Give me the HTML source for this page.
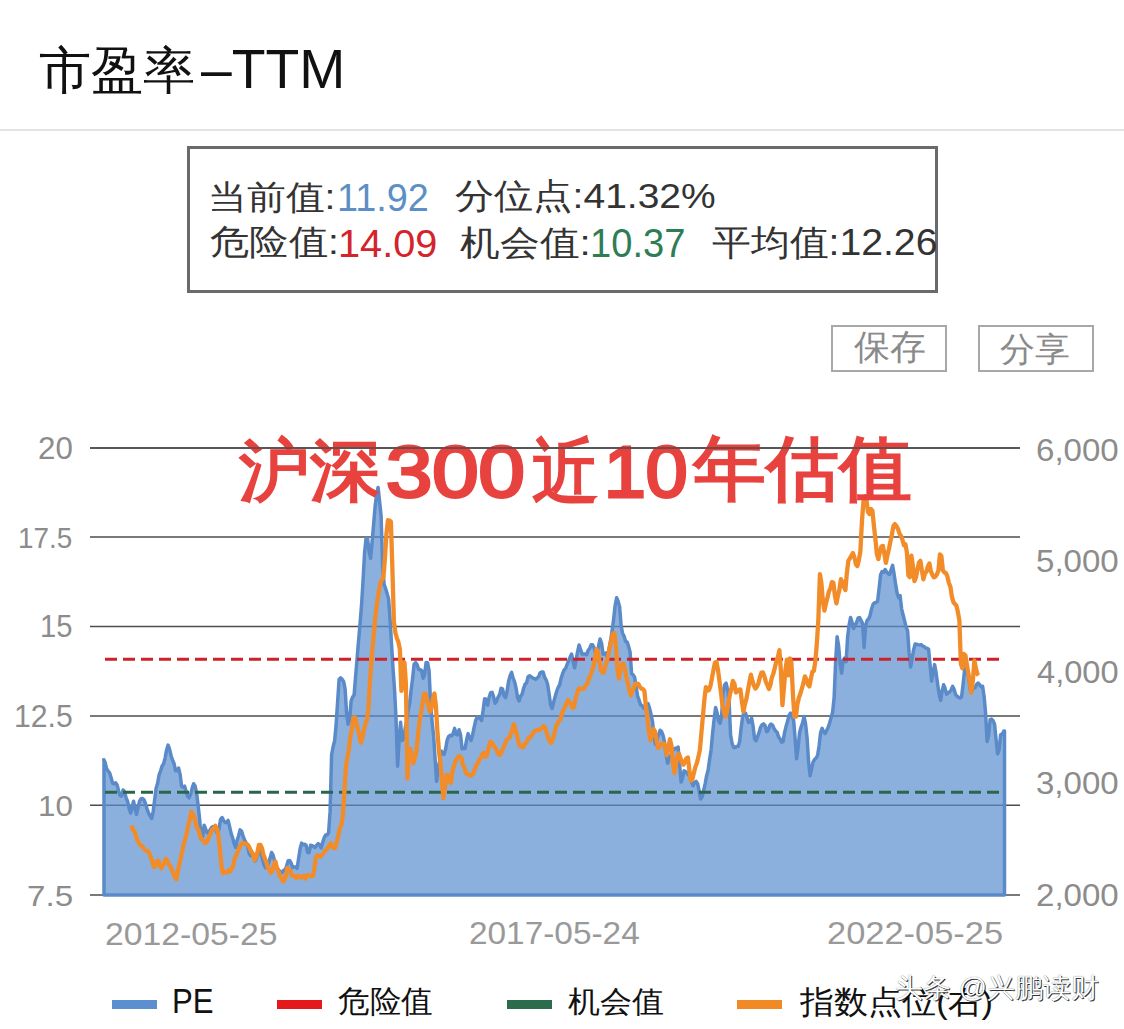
<!DOCTYPE html>
<html><head><meta charset="utf-8">
<style>
html,body{margin:0;padding:0;background:#fff;width:1124px;height:1029px;overflow:hidden;font-family:"Liberation Sans",sans-serif;}
.abs{position:absolute;}
.t{position:absolute;white-space:nowrap;line-height:1;transform-origin:0 0;}
.sw{position:absolute;height:9px;}
</style></head><body>
<div class="abs" style="left:0;top:129px;width:1124px;height:1.5px;background:#e4e4e4"></div>
<div class="abs" style="left:187px;top:145.5px;width:745px;height:141px;border:3px solid #6a6a6a"></div>
<div class="abs" style="left:831px;top:325px;width:112px;height:43px;border:2px solid #a8a8a8"></div>
<div class="abs" style="left:978px;top:325px;width:112px;height:43px;border:2px solid #a8a8a8"></div>
<svg class="abs" style="left:0;top:0" width="1124" height="1029">
<g stroke="#4d4d4d" stroke-width="1.6"><line x1="90" y1="448" x2="1020" y2="448"/><line x1="90" y1="537" x2="1020" y2="537"/><line x1="90" y1="626.5" x2="1020" y2="626.5"/><line x1="90" y1="716" x2="1020" y2="716"/><line x1="90" y1="805.3" x2="1020" y2="805.3"/><line x1="90" y1="895" x2="1020" y2="895"/></g>
<path d="M104.0,759.7 L103.6,759.7 L105.1,762.4 L106.6,768.6 L108.1,771.0 L109.6,772.8 L111.1,777.7 L112.6,783.3 L114.1,783.7 L115.6,782.8 L117.1,784.9 L118.6,790.7 L120.1,795.5 L121.6,796.1 L123.1,790.0 L124.6,791.7 L126.1,797.8 L127.6,801.4 L129.1,808.4 L130.6,813.0 L132.1,806.5 L133.6,801.3 L135.1,809.2 L136.6,814.5 L138.1,807.1 L139.6,800.9 L141.1,798.7 L142.6,798.4 L144.1,799.9 L145.6,804.1 L147.1,809.1 L148.6,813.1 L150.1,815.9 L151.6,818.5 L153.1,811.8 L154.6,800.2 L156.1,788.3 L157.6,783.2 L159.1,774.8 L160.6,770.8 L162.1,766.0 L163.6,763.8 L165.1,757.8 L166.6,750.0 L168.1,745.1 L169.6,749.4 L171.1,755.7 L172.6,760.3 L174.1,763.6 L175.6,770.8 L177.1,770.7 L178.6,768.1 L180.1,774.4 L181.6,786.3 L183.1,787.2 L184.6,786.2 L186.1,791.2 L187.6,796.3 L189.1,797.8 L190.6,794.4 L192.1,788.3 L193.6,783.7 L195.1,785.9 L196.6,793.3 L198.1,805.2 L199.6,819.0 L201.1,839.2 L202.6,836.7 L204.1,825.2 L205.6,828.9 L207.1,833.0 L208.6,832.8 L210.1,829.9 L211.6,827.5 L213.1,826.5 L214.6,827.4 L216.1,830.4 L217.6,834.0 L219.1,828.2 L220.6,819.4 L222.1,817.5 L223.6,820.6 L225.1,822.4 L226.6,822.6 L228.1,820.4 L229.6,826.7 L231.1,833.4 L232.6,837.8 L234.1,843.5 L235.6,847.4 L237.1,840.2 L238.6,835.7 L240.1,829.9 L241.6,831.2 L243.1,836.1 L244.6,840.1 L246.1,842.6 L247.6,846.0 L249.1,853.5 L250.6,855.7 L252.1,856.0 L253.6,856.7 L255.1,861.0 L256.6,858.1 L258.1,852.8 L259.6,849.5 L261.1,854.1 L262.6,859.8 L264.1,865.2 L265.6,867.8 L267.1,867.1 L268.6,862.8 L270.1,858.1 L271.6,852.5 L273.1,855.1 L274.6,861.0 L276.1,866.4 L277.6,869.0 L279.1,870.5 L280.6,872.2 L282.1,872.6 L283.6,870.2 L285.1,870.2 L286.6,866.1 L288.1,860.7 L289.6,860.5 L291.1,862.9 L292.6,867.5 L294.1,866.9 L295.6,867.1 L297.1,868.3 L298.6,858.5 L300.1,848.7 L301.6,843.1 L303.1,844.7 L304.6,844.2 L306.1,845.2 L307.6,852.5 L309.1,852.7 L310.6,845.3 L312.1,845.6 L313.6,846.5 L315.1,847.4 L316.6,845.3 L318.1,843.5 L319.6,844.8 L321.1,848.0 L322.6,842.8 L324.1,837.9 L325.6,835.1 L327.1,835.0 L328.6,832.6 L330.1,811.4 L331.6,755.0 L333.1,746.8 L334.6,741.0 L336.1,725.0 L337.6,701.8 L339.1,679.5 L340.6,677.8 L342.1,679.3 L343.6,681.4 L345.1,689.2 L346.6,713.0 L348.1,724.3 L349.6,719.6 L351.1,701.1 L352.6,697.1 L354.1,695.0 L355.6,676.3 L357.1,658.4 L358.6,640.4 L360.1,623.0 L361.6,604.5 L363.1,579.7 L364.6,552.2 L366.1,538.2 L367.6,538.6 L369.1,551.7 L370.6,558.4 L372.1,541.8 L373.6,524.6 L375.1,506.4 L376.6,494.8 L378.1,487.4 L379.6,501.6 L381.1,515.8 L382.6,566.5 L384.1,584.4 L385.6,588.6 L387.1,593.4 L388.6,599.1 L390.1,620.0 L391.6,645.3 L393.1,669.6 L394.6,690.7 L396.1,720.9 L397.6,766.2 L399.1,740.6 L400.6,722.3 L402.1,740.4 L403.6,739.0 L405.1,728.9 L406.6,721.3 L408.1,711.0 L409.6,703.8 L411.1,690.4 L412.6,678.6 L414.1,664.2 L415.6,662.6 L417.1,664.5 L418.6,669.6 L420.1,669.5 L421.6,670.4 L423.1,678.2 L424.6,674.7 L426.1,662.5 L427.6,662.8 L429.1,670.9 L430.6,704.6 L432.1,721.8 L433.6,735.9 L435.1,759.1 L436.6,781.3 L438.1,769.3 L439.6,761.1 L441.1,750.9 L442.6,753.7 L444.1,754.3 L445.6,749.0 L447.1,740.3 L448.6,736.5 L450.1,735.2 L451.6,735.9 L453.1,733.7 L454.6,728.4 L456.1,734.3 L457.6,734.9 L459.1,729.7 L460.6,735.3 L462.1,748.7 L463.6,748.4 L465.1,748.5 L466.6,739.9 L468.1,733.6 L469.6,737.8 L471.1,740.4 L472.6,734.9 L474.1,727.3 L475.6,720.8 L477.1,717.3 L478.6,718.0 L480.1,718.2 L481.6,720.5 L483.1,710.5 L484.6,698.7 L486.1,699.1 L487.6,705.2 L489.1,697.2 L490.6,692.8 L492.1,692.4 L493.6,696.8 L495.1,703.3 L496.6,701.2 L498.1,697.1 L499.6,694.6 L501.1,688.2 L502.6,689.1 L504.1,696.0 L505.6,697.6 L507.1,691.2 L508.6,681.3 L510.1,675.8 L511.6,672.4 L513.1,678.1 L514.6,681.8 L516.1,688.3 L517.6,697.9 L519.1,700.9 L520.6,696.1 L522.1,694.2 L523.6,688.3 L525.1,684.1 L526.6,682.9 L528.1,676.7 L529.6,675.8 L531.1,676.8 L532.6,677.9 L534.1,678.4 L535.6,679.4 L537.1,678.1 L538.6,676.8 L540.1,672.9 L541.6,671.9 L543.1,672.1 L544.6,677.2 L546.1,679.8 L547.6,684.3 L549.1,694.1 L550.6,704.8 L552.1,708.5 L553.6,702.4 L555.1,696.8 L556.6,691.5 L558.1,687.5 L559.6,685.0 L561.1,678.3 L562.6,673.7 L564.1,670.0 L565.6,668.5 L567.1,664.4 L568.6,660.8 L570.1,657.3 L571.6,654.1 L573.1,661.7 L574.6,667.8 L576.1,659.9 L577.6,651.6 L579.1,645.0 L580.6,649.6 L582.1,654.1 L583.6,654.1 L585.1,654.0 L586.6,654.7 L588.1,650.6 L589.6,648.5 L591.1,644.8 L592.6,644.8 L594.1,647.7 L595.6,653.7 L597.1,654.4 L598.6,645.7 L600.1,639.0 L601.6,643.6 L603.1,654.2 L604.6,654.1 L606.1,652.8 L607.6,658.4 L609.1,648.5 L610.6,640.3 L612.1,630.9 L613.6,619.4 L615.1,605.9 L616.6,597.7 L618.1,601.2 L619.6,606.6 L621.1,625.7 L622.6,633.5 L624.1,636.2 L625.6,641.5 L627.1,641.9 L628.6,646.5 L630.1,652.1 L631.6,673.7 L633.1,674.8 L634.6,677.1 L636.1,686.5 L637.6,696.1 L639.1,700.2 L640.6,704.9 L642.1,705.5 L643.6,708.2 L645.1,707.2 L646.6,705.1 L648.1,703.7 L649.6,708.3 L651.1,714.6 L652.6,722.1 L654.1,738.0 L655.6,744.6 L657.1,739.1 L658.6,734.7 L660.1,730.2 L661.6,731.6 L663.1,735.7 L664.6,742.4 L666.1,753.9 L667.6,763.2 L669.1,758.2 L670.6,755.6 L672.1,751.4 L673.6,749.6 L675.1,748.3 L676.6,748.3 L678.1,747.0 L679.6,764.3 L681.1,782.1 L682.6,777.6 L684.1,770.9 L685.6,771.6 L687.1,773.0 L688.6,775.0 L690.1,777.0 L691.6,782.2 L693.1,785.8 L694.6,782.5 L696.1,781.4 L697.6,783.7 L699.1,790.7 L700.6,799.1 L702.1,797.0 L703.6,790.6 L705.1,783.8 L706.6,775.9 L708.1,770.2 L709.6,759.4 L711.1,749.9 L712.6,733.2 L714.1,719.6 L715.6,707.5 L717.1,713.0 L718.6,720.9 L720.1,723.2 L721.6,716.0 L723.1,693.5 L724.6,685.1 L726.1,683.1 L727.6,689.8 L729.1,702.4 L730.6,735.1 L732.1,743.5 L733.6,747.4 L735.1,747.6 L736.6,746.4 L738.1,746.6 L739.6,741.7 L741.1,728.5 L742.6,716.6 L744.1,712.9 L745.6,713.3 L747.1,718.2 L748.6,722.4 L750.1,722.1 L751.6,718.1 L753.1,726.3 L754.6,739.2 L756.1,740.7 L757.6,736.6 L759.1,732.4 L760.6,727.1 L762.1,724.8 L763.6,723.9 L765.1,725.6 L766.6,731.7 L768.1,730.8 L769.6,725.7 L771.1,724.0 L772.6,725.3 L774.1,728.7 L775.6,731.0 L777.1,732.4 L778.6,736.9 L780.1,739.1 L781.6,742.3 L783.1,741.4 L784.6,732.4 L786.1,726.3 L787.6,721.3 L789.1,715.2 L790.6,713.1 L792.1,716.4 L793.6,720.1 L795.1,738.6 L796.6,758.7 L798.1,747.5 L799.6,732.5 L801.1,727.0 L802.6,722.8 L804.1,716.5 L805.6,724.2 L807.1,738.1 L808.6,762.0 L810.1,775.7 L811.6,768.5 L813.1,762.1 L814.6,759.3 L816.1,758.2 L817.6,755.2 L819.1,745.8 L820.6,732.6 L822.1,728.3 L823.6,731.8 L825.1,733.5 L826.6,730.6 L828.1,727.5 L829.6,723.0 L831.1,717.6 L832.6,712.2 L834.1,698.0 L835.6,662.3 L837.1,636.8 L838.6,645.7 L840.1,663.7 L841.6,673.2 L843.1,660.5 L844.6,658.2 L846.1,661.7 L847.6,637.3 L849.1,625.0 L850.6,617.4 L852.1,622.6 L853.6,628.5 L855.1,625.0 L856.6,622.5 L858.1,618.0 L859.6,617.6 L861.1,620.6 L862.6,623.6 L864.1,647.5 L865.6,626.1 L867.1,620.4 L868.6,619.0 L870.1,615.5 L871.6,608.7 L873.1,604.3 L874.6,602.7 L876.1,602.5 L877.6,601.1 L879.1,588.4 L880.6,574.8 L882.1,571.6 L883.6,572.1 L885.1,569.5 L886.6,572.0 L888.1,573.7 L889.6,574.5 L891.1,569.9 L892.6,565.4 L894.1,574.0 L895.6,584.4 L897.1,593.1 L898.6,597.7 L900.1,595.7 L901.6,608.8 L903.1,615.0 L904.6,620.9 L906.1,627.1 L907.6,630.8 L909.1,652.9 L910.6,667.1 L912.1,658.6 L913.6,649.9 L915.1,644.1 L916.6,644.2 L918.1,644.6 L919.6,644.9 L921.1,644.6 L922.6,645.9 L924.1,646.5 L925.6,648.1 L927.1,648.3 L928.6,649.2 L930.1,665.4 L931.6,681.0 L933.1,672.9 L934.6,664.6 L936.1,673.1 L937.6,683.9 L939.1,693.8 L940.6,700.4 L942.1,691.0 L943.6,684.8 L945.1,688.3 L946.6,694.3 L948.1,693.0 L949.6,691.8 L951.1,690.0 L952.6,686.4 L954.1,689.4 L955.6,694.5 L957.1,696.3 L958.6,697.3 L960.1,698.1 L961.6,696.8 L963.1,684.1 L964.6,669.9 L966.1,667.0 L967.6,671.8 L969.1,680.6 L970.6,691.6 L972.1,690.5 L973.6,687.7 L975.1,687.7 L976.6,684.5 L978.1,683.0 L979.6,684.7 L981.1,686.7 L982.6,686.2 L984.1,696.4 L985.6,713.5 L987.1,741.5 L988.6,735.5 L990.1,719.7 L991.6,719.1 L993.1,720.7 L994.6,724.3 L996.1,739.9 L997.6,753.9 L999.1,750.1 L1000.6,734.8 L1002.1,734.1 L1003.6,731.6 L1003.8,730.9 L1004.5,730.9 L1004.5,895 L104.0,895 Z" fill="#5b8fd0" fill-opacity="0.7" stroke="#5a8bc8" stroke-width="3.5" stroke-linejoin="round"/>
<line x1="104" y1="659.3" x2="1005" y2="659.3" stroke="#cc2229" stroke-width="3" stroke-dasharray="12 6" stroke-dashoffset="-1"/>
<line x1="104" y1="792.3" x2="1005" y2="792.3" stroke="#2a654c" stroke-width="3" stroke-dasharray="12 6" stroke-dashoffset="-1"/>
<path d="M131.4,825.5 L132.9,829.7 L134.4,831.2 L135.9,835.2 L137.4,840.5 L138.9,843.2 L140.4,845.2 L141.9,845.7 L143.4,848.1 L144.9,849.6 L146.4,851.0 L147.9,851.2 L149.4,853.5 L150.9,857.1 L152.4,862.1 L153.9,866.9 L155.4,866.3 L156.9,861.3 L158.4,860.7 L159.9,865.4 L161.4,868.4 L162.9,864.9 L164.4,862.7 L165.9,858.8 L167.4,860.7 L168.9,864.7 L170.4,866.1 L171.9,869.9 L173.4,873.4 L174.9,877.2 L176.4,879.4 L177.9,870.8 L179.4,863.9 L180.9,857.4 L182.4,850.3 L183.9,842.9 L185.4,839.0 L186.9,832.1 L188.4,825.1 L189.9,818.8 L191.4,811.5 L192.9,814.0 L194.4,817.5 L195.9,824.2 L197.4,828.6 L198.9,830.7 L200.4,837.0 L201.9,839.5 L203.4,840.8 L204.9,843.0 L206.4,842.4 L207.9,840.2 L209.4,835.5 L210.9,833.1 L212.4,829.2 L213.9,828.2 L215.4,825.8 L216.9,829.0 L218.4,835.3 L219.9,849.0 L221.4,864.9 L222.9,873.5 L224.4,872.2 L225.9,872.0 L227.4,872.6 L228.9,870.0 L230.4,871.2 L231.9,868.3 L233.4,865.1 L234.9,857.3 L236.4,855.1 L237.9,851.3 L239.4,847.7 L240.9,844.8 L242.4,843.0 L243.9,843.6 L245.4,843.6 L246.9,844.0 L248.4,845.5 L249.9,848.6 L251.4,851.6 L252.9,854.0 L254.4,860.2 L255.9,857.4 L257.4,852.5 L258.9,844.8 L260.4,845.0 L261.9,847.9 L263.4,854.7 L264.9,858.5 L266.4,862.2 L267.9,868.0 L269.4,869.5 L270.9,873.0 L272.4,870.5 L273.9,865.2 L275.4,861.6 L276.9,867.7 L278.4,871.1 L279.9,876.5 L281.4,877.5 L282.9,881.4 L284.4,880.2 L285.9,875.7 L287.4,868.0 L288.9,870.4 L290.4,870.7 L291.9,875.8 L293.4,875.6 L294.9,876.3 L296.4,878.0 L297.9,876.0 L299.4,876.1 L300.9,877.6 L302.4,876.7 L303.9,875.7 L305.4,878.5 L306.9,875.8 L308.4,875.1 L309.9,875.7 L311.4,876.2 L312.9,876.2 L314.4,867.8 L315.9,857.5 L317.4,855.3 L318.9,856.1 L320.4,856.5 L321.9,855.0 L323.4,853.5 L324.9,851.1 L326.4,849.6 L327.9,847.6 L329.4,845.4 L330.9,843.2 L332.4,846.9 L333.9,848.3 L335.4,847.5 L336.9,841.3 L338.4,835.4 L339.9,827.7 L341.4,825.4 L342.9,814.8 L344.4,791.5 L345.9,767.4 L347.4,756.9 L348.9,749.6 L350.4,736.3 L351.9,729.5 L353.4,717.6 L354.9,717.3 L356.4,722.8 L357.9,729.2 L359.4,735.7 L360.9,742.7 L362.4,737.8 L363.9,730.4 L365.4,723.4 L366.9,720.3 L368.4,708.5 L369.9,683.2 L371.4,660.9 L372.9,643.7 L374.4,627.0 L375.9,611.9 L377.4,600.1 L378.9,591.7 L380.4,582.9 L381.9,579.9 L383.4,577.4 L384.9,558.8 L386.4,534.2 L387.9,520.2 L389.4,520.5 L390.9,521.7 L392.4,569.6 L393.9,621.6 L395.4,632.8 L396.9,638.2 L398.4,642.1 L399.9,649.4 L401.4,690.8 L402.9,681.4 L404.4,662.3 L405.9,683.3 L407.4,778.6 L408.9,755.6 L410.4,748.9 L411.9,757.6 L413.4,763.2 L414.9,757.5 L416.4,751.7 L417.9,735.5 L419.4,722.4 L420.9,713.7 L422.4,703.7 L423.9,694.3 L425.4,693.6 L426.9,699.1 L428.4,705.2 L429.9,711.9 L431.4,708.7 L432.9,698.5 L434.4,693.5 L435.9,705.6 L437.4,731.4 L438.9,750.0 L440.4,763.3 L441.9,779.9 L443.4,798.3 L444.9,788.3 L446.4,774.8 L447.9,774.9 L449.4,780.7 L450.9,783.1 L452.4,771.3 L453.9,766.0 L455.4,761.4 L456.9,759.0 L458.4,756.3 L459.9,756.2 L461.4,758.1 L462.9,764.7 L464.4,767.5 L465.9,773.1 L467.4,774.0 L468.9,774.5 L470.4,775.8 L471.9,775.1 L473.4,773.1 L474.9,769.1 L476.4,765.0 L477.9,763.3 L479.4,759.7 L480.9,757.7 L482.4,753.9 L483.9,752.8 L485.4,756.9 L486.9,755.1 L488.4,748.9 L489.9,742.2 L491.4,741.9 L492.9,744.0 L494.4,746.9 L495.9,748.3 L497.4,752.1 L498.9,754.9 L500.4,754.7 L501.9,750.9 L503.4,747.9 L504.9,744.3 L506.4,740.0 L507.9,738.6 L509.4,738.1 L510.9,733.9 L512.4,729.0 L513.9,724.3 L515.4,729.3 L516.9,734.7 L518.4,741.8 L519.9,746.1 L521.4,746.3 L522.9,747.4 L524.4,744.0 L525.9,743.7 L527.4,740.1 L528.9,737.5 L530.4,737.3 L531.9,734.9 L533.4,732.8 L534.9,730.7 L536.4,730.7 L537.9,729.8 L539.4,730.0 L540.9,728.9 L542.4,727.0 L543.9,726.2 L545.4,728.5 L546.9,733.5 L548.4,738.4 L549.9,741.5 L551.4,742.9 L552.9,738.5 L554.4,733.6 L555.9,726.6 L557.4,723.7 L558.9,721.2 L560.4,719.7 L561.9,713.5 L563.4,710.2 L564.9,707.1 L566.4,703.9 L567.9,700.2 L569.4,702.3 L570.9,703.6 L572.4,707.8 L573.9,707.3 L575.4,699.2 L576.9,694.2 L578.4,688.9 L579.9,688.3 L581.4,688.9 L582.9,689.2 L584.4,688.1 L585.9,685.1 L587.4,683.6 L588.9,678.7 L590.4,675.7 L591.9,671.3 L593.4,666.5 L594.9,659.0 L596.4,649.3 L597.9,651.5 L599.4,661.3 L600.9,670.1 L602.4,672.6 L603.9,672.5 L605.4,665.4 L606.9,661.5 L608.4,654.4 L609.9,646.7 L611.4,639.2 L612.9,633.7 L614.4,633.0 L615.9,646.3 L617.4,669.1 L618.9,678.6 L620.4,669.0 L621.9,664.5 L623.4,663.7 L624.9,669.4 L626.4,677.5 L627.9,683.7 L629.4,690.6 L630.9,695.4 L632.4,690.7 L633.9,688.0 L635.4,683.6 L636.9,683.5 L638.4,684.0 L639.9,686.9 L641.4,688.7 L642.9,689.0 L644.4,691.0 L645.9,706.8 L647.4,717.6 L648.9,731.4 L650.4,740.5 L651.9,735.5 L653.4,729.0 L654.9,731.4 L656.4,739.0 L657.9,748.0 L659.4,746.9 L660.9,744.7 L662.4,743.4 L663.9,743.4 L665.4,748.4 L666.9,755.2 L668.4,747.3 L669.9,739.3 L671.4,745.3 L672.9,763.0 L674.4,773.1 L675.9,765.0 L677.4,756.8 L678.9,753.6 L680.4,757.7 L681.9,762.4 L683.4,764.7 L684.9,761.7 L686.4,758.4 L687.9,757.5 L689.4,770.5 L690.9,780.7 L692.4,779.1 L693.9,772.7 L695.4,766.9 L696.9,762.9 L698.4,756.7 L699.9,749.9 L701.4,732.9 L702.9,716.4 L704.4,699.6 L705.9,687.1 L707.4,690.6 L708.9,690.2 L710.4,686.1 L711.9,678.3 L713.4,670.4 L714.9,662.8 L716.4,661.8 L717.9,669.3 L719.4,680.8 L720.9,692.0 L722.4,704.5 L723.9,711.6 L725.4,716.7 L726.9,712.5 L728.4,703.2 L729.9,694.5 L731.4,688.3 L732.9,680.9 L734.4,683.7 L735.9,692.5 L737.4,691.5 L738.9,689.9 L740.4,689.4 L741.9,701.4 L743.4,711.6 L744.9,704.2 L746.4,698.8 L747.9,690.5 L749.4,682.3 L750.9,674.7 L752.4,681.0 L753.9,685.6 L755.4,688.6 L756.9,686.6 L758.4,683.3 L759.9,677.4 L761.4,672.6 L762.9,672.4 L764.4,676.3 L765.9,681.9 L767.4,685.1 L768.9,689.0 L770.4,684.7 L771.9,677.4 L773.4,673.5 L774.9,667.4 L776.4,661.2 L777.9,657.0 L779.4,650.2 L780.9,671.0 L782.4,705.2 L783.9,688.4 L785.4,670.4 L786.9,659.7 L788.4,675.4 L789.9,658.5 L791.4,662.6 L792.9,693.8 L794.4,716.5 L795.9,716.7 L797.4,704.2 L798.9,697.7 L800.4,693.6 L801.9,688.5 L803.4,683.1 L804.9,676.4 L806.4,679.4 L807.9,684.4 L809.4,686.4 L810.9,678.7 L812.4,671.6 L813.9,670.9 L815.4,660.5 L816.9,642.6 L818.4,618.6 L819.9,574.2 L821.4,583.1 L822.9,601.9 L824.4,610.6 L825.9,603.6 L827.4,597.9 L828.9,591.6 L830.4,588.4 L831.9,582.1 L833.4,582.7 L834.9,595.7 L836.4,603.3 L837.9,595.8 L839.4,589.7 L840.9,579.2 L842.4,582.1 L843.9,587.1 L845.4,590.0 L846.9,572.5 L848.4,560.7 L849.9,558.4 L851.4,555.6 L852.9,553.0 L854.4,557.4 L855.9,564.1 L857.4,566.1 L858.9,560.1 L860.4,550.8 L861.9,522.1 L863.4,501.8 L864.9,496.1 L866.4,498.9 L867.9,511.9 L869.4,514.1 L870.9,509.0 L872.4,510.7 L873.9,525.8 L875.4,539.1 L876.9,554.2 L878.4,559.1 L879.9,551.8 L881.4,546.5 L882.9,545.9 L884.4,554.0 L885.9,562.9 L887.4,555.6 L888.9,549.0 L890.4,541.6 L891.9,534.5 L893.4,526.1 L894.9,524.1 L896.4,526.0 L897.9,528.8 L899.4,533.3 L900.9,535.8 L902.4,539.8 L903.9,545.3 L905.4,544.2 L906.9,552.3 L908.4,575.6 L909.9,577.2 L911.4,555.7 L912.9,566.1 L914.4,581.1 L915.9,577.6 L917.4,569.9 L918.9,562.6 L920.4,560.8 L921.9,570.4 L923.4,579.3 L924.9,573.3 L926.4,571.7 L927.9,566.4 L929.4,563.4 L930.9,571.4 L932.4,574.8 L933.9,577.3 L935.4,576.5 L936.9,574.3 L938.4,570.7 L939.9,554.4 L941.4,556.2 L942.9,570.4 L944.4,572.3 L945.9,573.2 L947.4,576.4 L948.9,583.0 L950.4,586.7 L951.9,596.8 L953.4,602.2 L954.9,604.0 L956.4,605.7 L957.9,612.1 L959.4,620.7 L960.9,664.1 L962.4,668.3 L963.9,654.0 L965.4,655.3 L966.9,664.8 L968.4,673.5 L969.9,682.2 L971.4,692.8 L972.9,679.9 L974.4,660.5 L975.9,668.6 L977.4,674.0 L978.5,675.4" fill="none" stroke="#f28c28" stroke-width="4.3" stroke-linejoin="round"/>
</svg>
<div class="t" style="left:238.9px;top:436.0px;font-size:68.35px;transform:scaleX(1.040);color:#e8423f;font-weight:bold">沪深</div>
<div class="t" style="left:385.7px;top:436.6px;font-size:71.35px;transform:scaleX(1.167);color:#e8423f;-webkit-text-stroke:3px #e8423f">300</div>
<div class="t" style="left:532.4px;top:435.4px;font-size:72.25px;transform:scaleX(0.929);color:#e8423f;font-weight:bold">近</div>
<div class="t" style="left:603.5px;top:436.6px;font-size:71.35px;transform:scaleX(1.053);color:#e8423f;-webkit-text-stroke:3px #e8423f">10</div>
<div class="t" style="left:693.1px;top:433.8px;font-size:70.55px;transform:scaleX(1.026);color:#e8423f;font-weight:bold">年估值</div>
<svg class="abs" style="left:0;top:0" width="1124" height="500"><line x1="90" y1="448" x2="1020" y2="448" stroke="#4d4d4d" stroke-width="1.6"/></svg>
<div class="t" style="left:38.6px;top:44.9px;font-size:51.36px;transform:scaleX(1.024);color:#111">市盈率</div>
<div class="t" style="left:201.1px;top:42.0px;font-size:55.67px;transform:scaleX(0.993);color:#111">–TTM</div>
<div class="t" style="left:207.7px;top:179.6px;font-size:34.26px;transform:scaleX(1.142);color:#333">当前值:</div>
<div class="t" style="left:337.3px;top:178.2px;font-size:38.99px;transform:scaleX(0.970);color:#5b8fc6">11.92</div>
<div class="t" style="left:455.0px;top:179.0px;font-size:34.84px;transform:scaleX(1.120);color:#333">分位点:41.32%</div>
<div class="t" style="left:210.0px;top:225.2px;font-size:34.59px;transform:scaleX(1.124);color:#333">危险值:</div>
<div class="t" style="left:338.2px;top:224.1px;font-size:39.68px;transform:scaleX(1.001);color:#d4232a">14.09</div>
<div class="t" style="left:460.0px;top:224.6px;font-size:35.24px;transform:scaleX(1.137);color:#333">机会值:</div>
<div class="t" style="left:589.8px;top:224.2px;font-size:40.20px;transform:scaleX(0.948);color:#2f7d57">10.37</div>
<div class="t" style="left:711.5px;top:224.5px;font-size:36.31px;transform:scaleX(1.079);color:#333">平均值:12.26</div>
<div class="t" style="left:853.6px;top:330.3px;font-size:34.94px;transform:scaleX(1.028);color:#8a8a8a">保存</div>
<div class="t" style="left:1000.0px;top:332.1px;font-size:34.33px;transform:scaleX(1.027);color:#8a8a8a">分享</div>
<div class="t" style="left:37.8px;top:433.4px;font-size:31.84px;transform:scaleX(0.983);color:#8c8c8c">20</div>
<div class="t" style="left:18.4px;top:523.4px;font-size:30.21px;transform:scaleX(0.922);color:#8c8c8c">17.5</div>
<div class="t" style="left:39.8px;top:611.4px;font-size:31.88px;transform:scaleX(0.916);color:#8c8c8c">15</div>
<div class="t" style="left:14.3px;top:701.7px;font-size:30.74px;transform:scaleX(0.981);color:#8c8c8c">12.5</div>
<div class="t" style="left:37.7px;top:791.4px;font-size:30.21px;transform:scaleX(1.036);color:#8c8c8c">10</div>
<div class="t" style="left:26.8px;top:880.9px;font-size:30.21px;transform:scaleX(1.097);color:#8c8c8c">7.5</div>
<div class="t" style="left:1035.5px;top:434.3px;font-size:32.16px;transform:scaleX(1.028);color:#8c8c8c">6,000</div>
<div class="t" style="left:1035.5px;top:545.4px;font-size:32.16px;transform:scaleX(1.028);color:#8c8c8c">5,000</div>
<div class="t" style="left:1036.5px;top:656.0px;font-size:32.16px;transform:scaleX(1.015);color:#8c8c8c">4,000</div>
<div class="t" style="left:1035.5px;top:766.9px;font-size:32.16px;transform:scaleX(1.027);color:#8c8c8c">3,000</div>
<div class="t" style="left:1035.5px;top:879.3px;font-size:32.16px;transform:scaleX(1.028);color:#8c8c8c">2,000</div>
<div class="t" style="left:105.4px;top:919.3px;font-size:31.29px;transform:scaleX(1.078);color:#999">2012-05-25</div>
<div class="t" style="left:468.7px;top:917.9px;font-size:31.88px;transform:scaleX(1.047);color:#999">2017-05-24</div>
<div class="t" style="left:827.3px;top:917.9px;font-size:31.88px;transform:scaleX(1.080);color:#999">2022-05-25</div>
<div class="t" style="left:172.4px;top:984.0px;font-size:35.78px;transform:scaleX(0.871);color:#111">PE</div>
<div class="t" style="left:338.0px;top:986.9px;font-size:30.92px;transform:scaleX(1.020);color:#111">危险值</div>
<div class="t" style="left:567.5px;top:986.8px;font-size:30.04px;transform:scaleX(1.068);color:#111">机会值</div>
<div class="t" style="left:800.3px;top:986.4px;font-size:32.11px;transform:scaleX(1.064);color:#111">指数点位(右)</div>
<div class="t" style="left:894.6px;top:974.5px;font-size:26.90px;transform:scaleX(1.038);color:#fff;text-shadow:1px 1px 0 rgba(0,0,0,0.8),0 0 1px rgba(0,0,0,0.6)">头条 @兴鹏读财</div>
<div class="sw" style="left:112px;top:1000px;width:45px;background:#5b8fd0"></div>
<div class="sw" style="left:277px;top:1000px;width:45px;background:#e3191b"></div>
<div class="sw" style="left:507px;top:1000px;width:45px;background:#2c6b4b"></div>
<div class="sw" style="left:737px;top:1000px;width:45px;background:#f08a24"></div>
</body></html>
